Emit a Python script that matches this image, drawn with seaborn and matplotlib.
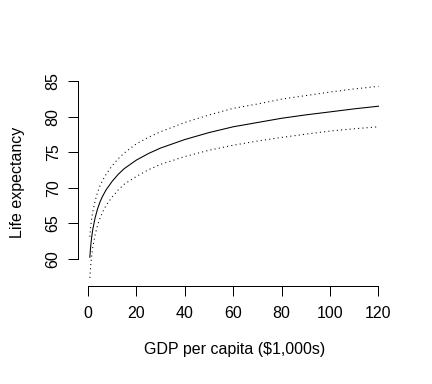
import matplotlib
matplotlib.use("Agg")
import matplotlib.pyplot as plt
import seaborn as sns

# values
gdp = [0.8, 0.9, 1, 1.25, 1.5, 2, 3, 4, 5, 6, 7.5, 10, 12.5, 15, 20, 25,
       30, 40, 50, 60, 70, 80, 90, 100, 110, 120]
fit = [60.2, 60.7, 61.15, 62.1, 62.87, 64.1, 65.8, 67.04, 68.0, 68.77,
       69.7, 70.9, 71.89, 72.7, 73.9, 74.83, 75.6, 76.8, 77.78, 78.6,
       79.2, 79.8, 80.28, 80.7, 81.13, 81.5]
upper = [63.1, 63.56, 63.96, 64.81, 65.5, 66.6, 68.2, 69.35, 70.3, 71.0,
         71.9, 73.1, 74.09, 74.9, 76.2, 77.12, 77.9, 79.2, 80.27, 81.2,
         81.81, 82.5, 83.0, 83.5, 83.94, 84.3]
lower = [57.3, 57.84, 58.34, 59.39, 60.24, 61.6, 63.4, 64.73, 65.7, 66.54,
         67.5, 68.7, 69.69, 70.5, 71.6, 72.54, 73.3, 74.4, 75.29, 76.0,
         76.59, 77.1, 77.56, 78.0, 78.32, 78.6]
xticks = [0, 20, 40, 60, 80, 100, 120]
yticks = [60, 65, 70, 75, 80, 85]

plt.rcParams['font.family'] = ['Liberation Sans', 'DejaVu Sans']

fig, ax = plt.subplots(figsize=(4.5, 4.0), dpi=96)
ax.set_position([78.3 / 432, (384 - 285.5) / 384, 311.7 / 432, 206.8 / 384])

sns.lineplot(x=gdp, y=fit, color="black", lw=0.8, ax=ax)
sns.lineplot(x=gdp, y=upper, color="black", lw=0.8, linestyle=(0, (1, 3)), ax=ax)
sns.lineplot(x=gdp, y=lower, color="black", lw=0.8, linestyle=(0, (1, 3)), ax=ax)

# R style 4% padding
xr = max(gdp) - min(gdp)
ax.set_xlim(min(gdp) - 0.04 * xr, max(gdp) + 0.04 * xr)
ylo, yhi = min(lower), max(upper)
yr = yhi - ylo
ax.set_ylim(ylo - 0.04 * yr, yhi + 0.04 * yr)

ax.set_xticks(xticks)
ax.set_yticks(yticks)
for s in ['top', 'right']:
    ax.spines[s].set_visible(False)
ax.spines['left'].set_bounds(yticks[0], yticks[-1])
ax.spines['bottom'].set_bounds(xticks[0], xticks[-1])
for s in ['left', 'bottom']:
    ax.spines[s].set_linewidth(0.75)
    ax.spines[s].set_color('black')

ax.tick_params(length=7.5, width=0.75, color='black', labelsize=12)
ax.tick_params(axis='x', pad=8)
ax.tick_params(axis='y', pad=5.7, labelrotation=90)
for t in ax.get_yticklabels():
    t.set_va('center')

ax.set_xlabel("GDP per capita ($1,000s)", fontsize=12, labelpad=15.5)
ax.set_ylabel("Life expectancy", fontsize=12, labelpad=15.5)

fig.savefig("out.png", dpi=96)
